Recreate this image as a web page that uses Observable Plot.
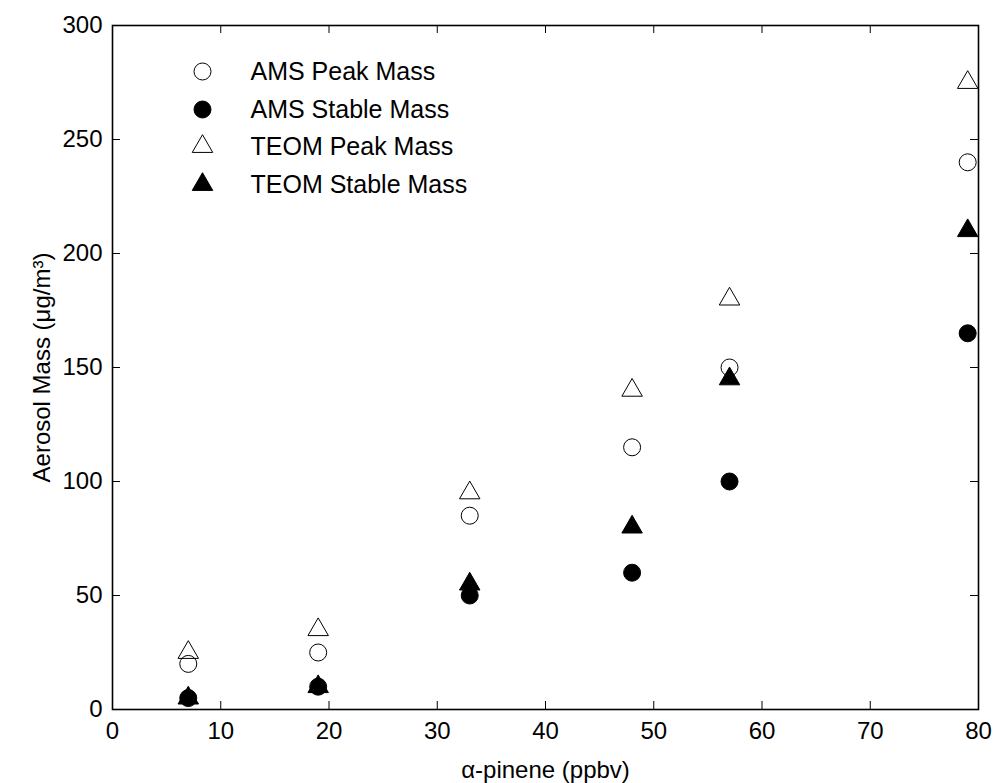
<!DOCTYPE html>
<html>
<head>
<meta charset="utf-8">
<script src="https://cdn.jsdelivr.net/npm/d3@7"></script>
<script src="https://cdn.jsdelivr.net/npm/@observablehq/plot@0.6"></script>
<style>
  html, body { margin: 0; padding: 0; background: white; }
</style>
</head>
<body>
<div id="chart"></div>
<script>
// Data
const pinene = [7, 19, 33, 48, 57, 79];
const amsPeak = [20, 25, 85, 115, 150, 240];
const amsStable = [5, 10, 50, 60, 100, 165];
const teomPeak = [25, 35, 95, 140, 180, 275];
const teomStable = [5, 10, 55, 80, 145, 210];
const seriesNames = ["AMS Peak Mass", "AMS Stable Mass", "TEOM Peak Mass", "TEOM Stable Mass"];
const xTicks = [0, 10, 20, 30, 40, 50, 60, 70, 80];
const yTicks = [0, 50, 100, 150, 200, 250, 300];

const W = 997, H = 783;
const mL = 112, mR = 19, mT = 25, mB = 74;
const innerW = W - mL - mR, innerH = H - mT - mB;
const tickLen = 8;

const seriesDefs = [
  {name: seriesNames[0], values: amsPeak, symbol: "circle", fill: "none", r: 8.5},
  {name: seriesNames[1], values: amsStable, symbol: "circle", fill: "black", r: 8.5},
  {name: seriesNames[2], values: teomPeak, symbol: "triangle", fill: "none", r: 7.6},
  {name: seriesNames[3], values: teomStable, symbol: "triangle", fill: "black", r: 7.6}
];

const marks = [];
// inward ticks
marks.push(Plot.ruleX(xTicks, {x: d => d, insetTop: innerH - tickLen, stroke: "black", strokeWidth: 1}));
marks.push(Plot.ruleX(xTicks, {x: d => d, insetBottom: innerH - tickLen, stroke: "black", strokeWidth: 1}));
marks.push(Plot.ruleY(yTicks, {y: d => d, insetRight: innerW - tickLen, stroke: "black", strokeWidth: 1}));
marks.push(Plot.ruleY(yTicks, {y: d => d, insetLeft: innerW - tickLen, stroke: "black", strokeWidth: 1}));
marks.push(Plot.frame({stroke: "black", strokeWidth: 1.6}));
marks.push(Plot.axisX({ticks: xTicks, tickSize: 0, tickPadding: 12, fontSize: 24, label: "α-pinene (ppbv)", labelAnchor: "center", labelArrow: "none", labelOffset: 68}));
marks.push(Plot.axisY({ticks: yTicks, tickSize: 0, tickPadding: 10, fontSize: 24, label: "Aerosol Mass (μg/m³)", labelAnchor: "center", labelArrow: "none", labelOffset: 80}));

seriesDefs.forEach((s, i) => {
  const data = pinene.map((x, j) => ({x, y: s.values[j]}));
  marks.push(Plot.dot(data, {x: "x", y: "y", symbol: () => s.symbol, r: s.r, fill: s.fill, stroke: "black", strokeWidth: 1}));
});

// legend inside plot
const legendDy = [46, 84, 121, 159];
seriesDefs.forEach((s, i) => {
  marks.push(Plot.dot([s], {frameAnchor: "top-left", dx: 90, dy: legendDy[i], symbol: () => s.symbol, r: s.r, fill: s.fill, stroke: "black", strokeWidth: 1}));
  marks.push(Plot.text([s], {frameAnchor: "top-left", dx: 138, dy: legendDy[i], text: d => d.name, textAnchor: "start", lineAnchor: "middle", fill: "black", fontSize: 25}));
});

const chart = Plot.plot({
  width: W, height: H,
  marginLeft: mL, marginRight: mR, marginTop: mT, marginBottom: mB,
  style: {fontFamily: "'Liberation Sans', Arial, sans-serif", fontSize: "24px", color: "black", background: "white"},
  x: {domain: [0, 80]},
  y: {domain: [0, 300]},
  symbol: {type: "identity"},
  marks
});
document.getElementById("chart").appendChild(chart);
</script>
</body>
</html>
